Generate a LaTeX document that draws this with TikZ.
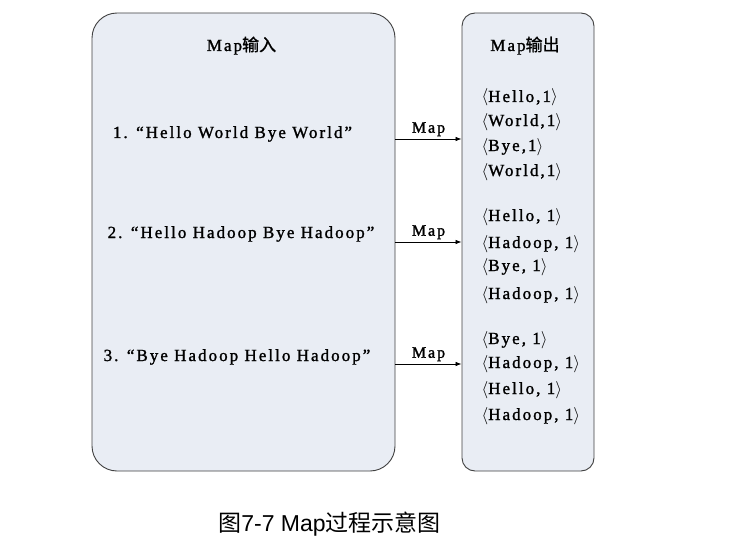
\documentclass[tikz,border=0pt]{standalone}
\usepackage{fontspec}
\setmainfont{Liberation Serif}[LetterSpace=12, FakeBold=1.4]
\newfontfamily\cjk{Noto Sans CJK SC}[FakeBold=1.2]
\newfontfamily\cjkpie{Noto Sans CJK SC}
\newfontfamily\piefont{Liberation Sans}
\usetikzlibrary{arrows.meta,positioning}
\definecolor{fondocaja}{HTML}{E9EDF4}
\definecolor{bordecaja}{HTML}{404040}
\newcommand{\kv}[1]{$\langle$#1$\rangle$}

\begin{document}
\begin{tikzpicture}[x=1pt,y=-1pt,
    caja/.style={draw=bordecaja, fill=fondocaja, line width=0.9pt, inner sep=0pt},
    linea/.style={anchor=base, font=\fontsize{17}{19}\selectfont},
    par/.style={anchor=base west, font=\fontsize{17}{19}\selectfont},
    flecha/.style={-{Latex[length=6pt,width=4.5pt]}, line width=0.7pt}]
    \useasboundingbox (0,0) rectangle (745,543);
    % Cajas de entrada y salida
    \node[caja, rounded corners=25pt, minimum width=303pt, minimum height=458pt] (entrada) at (243.5,242) {};
    \node[caja, rounded corners=13pt, minimum width=132pt, minimum height=458pt] (salida) at (528,242) {};
    % Titulos
    \node[linea] (tentrada) at (241.5,51) {Map{\cjk 输入}};
    \node[linea] (tsalida) at (525,51) {Map{\cjk 输出}};
    % Lineas de entrada
    \node[linea] (l1) at (232.5,138) {1. “Hello World Bye World”};
    \node[linea] (l2) at (241,238) {2. “Hello Hadoop Bye Hadoop”};
    \node[linea] (l3) at (237,361) {3. “Bye Hadoop Hello Hadoop”};
    % Pares de salida (x = 478)
    \foreach \i/\y/\txt in {1/102/{Hello,1}, 2/126/{World,1}, 3/151/{Bye,1}, 4/176/{World,1},
        5/221/{Hello, 1}, 6/248/{Hadoop, 1}, 7/271/{Bye, 1}, 8/299/{Hadoop, 1},
        9/344/{Bye, 1}, 10/368/{Hadoop, 1}, 11/394/{Hello, 1}, 12/420/{Hadoop, 1}}
        \node[par] (o\i) at (478,\y) {\kv{\txt}};
    % Flechas Map
    \foreach \i/\y in {1/139, 2/242, 3/364}{
        \coordinate (a\i) at (0,\y);
        \draw[flecha] (entrada.east |- a\i) -- node[above, inner sep=2.5pt, font=\fontsize{16}{18}\selectfont] (m\i) {Map} (salida.west |- a\i);
    }
    % Pie de figura
    \node[font=\fontsize{23}{26}\selectfont] (pie) at (329.5,524) {{\cjkpie 图}{\piefont 7-7 Map}{\cjkpie 过程示意图}};
\end{tikzpicture}
\end{document}
